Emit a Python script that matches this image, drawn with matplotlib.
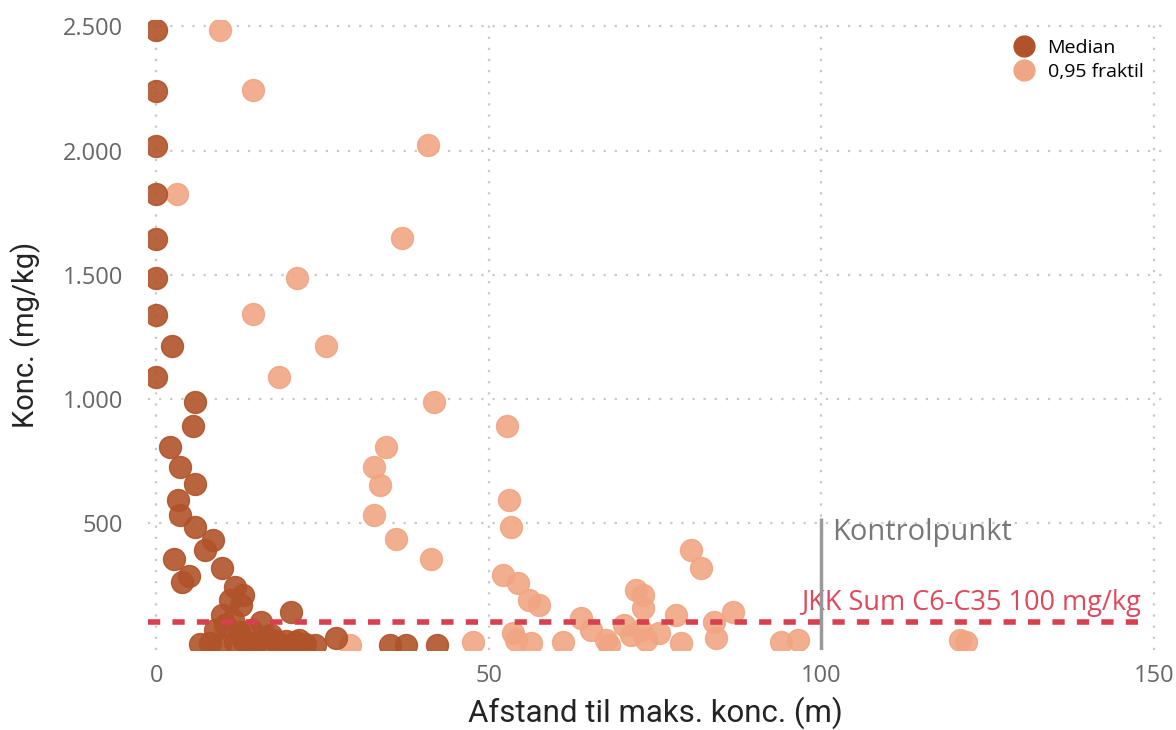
import matplotlib.pyplot as plt
from matplotlib.lines import Line2D
from matplotlib.ticker import FuncFormatter

plt.rcParams['font.family'] = ['Open Sans', 'DejaVu Sans']

# Median concentrations vs distance to max concentration
median_x = [0, 0, 0, 0, 0, 0, 0, 2.4, 0,
            5.9, 5.6, 2.1, 3.6, 5.9, 3.3, 3.6, 5.9, 8.6, 7.4, 2.7, 9.9, 5.0, 3.9,
            11.9, 13.1, 11.1, 12.7, 9.9, 10.4, 15.7, 20.2, 27.0, 14.2, 17.2, 8.9,
            6.6, 8.1, 9.6, 11.9, 14.2, 16.4, 18.7, 20.9, 22.4, 23.9, 13.0, 19.5,
            11.5, 12.5, 16.5, 18.0, 21.5, 15.0,
            35.2, 37.5, 42.2]
median_y = [2484, 2239, 2018, 1825, 1645, 1488, 1339, 1211, 1090,
            986, 889, 805, 725, 657, 592, 532, 484, 432, 391, 355, 319, 287, 263,
            243, 211, 191, 171, 131, 90, 102, 143, 38, 70, 50, 70,
            12, 15, 10, 20, 12, 18, 10, 22, 14, 10, 30, 25,
            110, 60, 40, 25, 30, 20,
            10, 10, 10]

# 0,95 fraktil
q95_x = [9.6, 14.6, 40.8, 3.2, 36.9, 21.1, 14.6, 25.6, 18.5, 41.7, 52.7, 34.5,
         32.7, 33.7, 53.0, 32.8, 53.3, 36.0, 41.3, 80.4, 81.9, 52.1, 54.4, 56.0,
         57.5, 72.1, 73.2, 73.2, 63.9, 65.4, 78.2, 83.9, 86.7, 84.2, 47.6, 53.6,
         54.1, 56.3, 61.1, 67.6, 68.1, 70.3, 71.4, 72.9, 73.6, 75.6, 78.9, 93.9,
         96.5, 120.8, 121.8, 29.2]
q95_y = [2484, 2243, 2022, 1825, 1649, 1488, 1343, 1211, 1090, 986, 889, 805,
         725, 652, 592, 532, 484, 436, 355, 391, 321, 291, 259, 191,
         171, 231, 211, 159, 118, 70, 131, 102, 143, 38, 22, 58,
         30, 18, 22, 30, 10, 90, 50, 70, 30, 58, 18, 22,
         30, 30, 22, 10]

limit_value = 100
control_x = 100
control_top = 520

dark = '#B0532A'
light = '#F0A683'

fig = plt.figure(figsize=(11.76, 7.3), dpi=100)
ax = fig.add_axes([0.126, 0.11, 0.862, 0.862])

ax.scatter(q95_x, q95_y, s=250, color=light, alpha=0.9, edgecolors=light,
           linewidths=1, zorder=3)
ax.scatter(median_x, median_y, s=250, color=dark, alpha=0.9, edgecolors=dark,
           linewidths=1, zorder=4)

# limit line and control point
ax.hlines(limit_value, -1.2, 148, colors='#D7404F', linestyles=(0, (2.2, 2.2)),
          linewidth=4, zorder=5)
ax.text(148, 150, 'JKK Sum C6-C35 100 mg/kg', color='#E0485C',
        fontsize=19.5, ha='right', va='baseline', zorder=5)
ax.vlines(control_x, -10, control_top, colors='#999999', linewidth=2.5, zorder=6)
ax.text(control_x + 1.6, 432, 'Kontrolpunkt', color='#787878',
        fontsize=21, ha='left', va='baseline', zorder=6)

ax.set_xlim(-1.2, 151.2)
ax.set_ylim(-10, 2524)
ax.set_xticks([0, 50, 100, 150])
ax.set_yticks([500, 1000, 1500, 2000, 2500])
ax.yaxis.set_major_formatter(FuncFormatter(lambda v, p: f'{int(v):,}'.replace(',', '.')))
ax.tick_params(length=0, labelsize=17, labelcolor='#666666')
ax.tick_params(axis='y', pad=18)
ax.tick_params(axis='x', pad=10)

ax.grid(True, color='#c8c8c8', linestyle=(0, (1, 4)), linewidth=1.6)
ax.set_axisbelow(True)
for s in ax.spines.values():
    s.set_visible(False)

ax.set_xlabel('Afstand til maks. konc. (m)', fontsize=22.5, color='#252423',
              family='Roboto', labelpad=6)
ax.set_ylabel('Konc. (mg/kg)', fontsize=21, color='#252423',
              family='Roboto', labelpad=16)

handles = [Line2D([], [], marker='o', linestyle='', markersize=15, color=dark),
           Line2D([], [], marker='o', linestyle='', markersize=15, color=light)]
leg = ax.legend(handles, ['Median', '0,95 fraktil'], loc='upper right',
                bbox_to_anchor=(0.997, 0.995), frameon=True, facecolor='white',
                edgecolor='none', framealpha=1, fontsize=14, handletextpad=0.2,
                labelspacing=0.3, borderpad=0.3)

fig.savefig('out.png', dpi=100)
